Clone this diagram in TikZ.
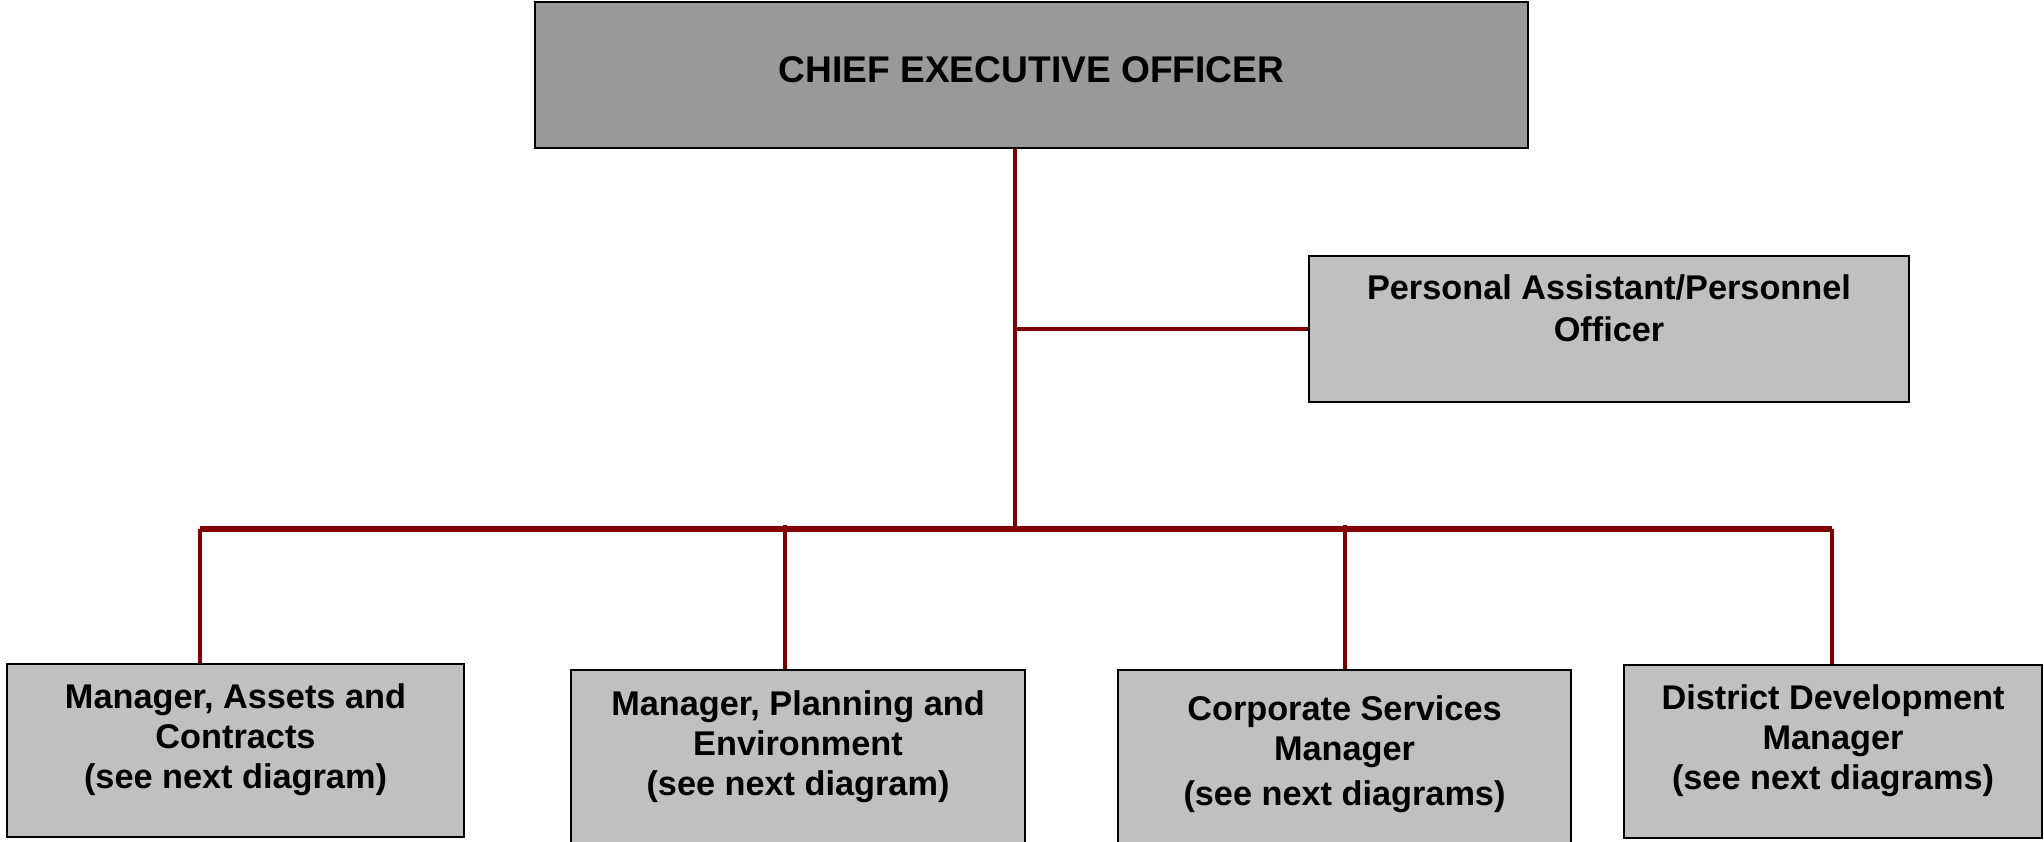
\documentclass[tikz,border=0pt]{standalone}
\usepackage{fontspec}
\setmainfont{Liberation Sans}
\usepackage{tikz}
\usetikzlibrary{positioning}
\definecolor{linkred}{HTML}{800000}
\definecolor{ceogray}{HTML}{999999}
\definecolor{boxgray}{HTML}{C0C0C0}
\tikzset{
  x=0.35pt, y=-0.35pt,
}
\tikzstyle{post}=[draw=black,line width=0.8pt,fill=boxgray,inner sep=0pt]
\tikzstyle{title}=[font=\bfseries\fontsize{12}{14}\selectfont,align=center,inner sep=0pt]
\tikzstyle{link}=[linkred,line width=1.4pt]
\tikzstyle{bus}=[linkred,line width=2pt]

\begin{document}
\begin{tikzpicture}
    \useasboundingbox (0,0) rectangle (2044,842);

    % top level
    \node[post,fill=ceogray,minimum width=347.5pt,minimum height=51.1pt] (ceo) at (1031.5,75) {};
    \node[title,font=\bfseries\fontsize{13}{15}\selectfont,below=19.3pt of ceo.north] (ceo-t) {CHIEF EXECUTIVE OFFICER};

    \node[post,minimum width=210pt,minimum height=51.1pt] (pa) at (1609,329) {};
    \node[title,below=6.6pt of pa.north] (pa-t) {Personal Assistant/Personnel\\[0.7pt] Officer};

    % managers
    \node[post,minimum width=160pt,minimum height=60.5pt] (ac) at (235.5,750.5) {};
    \node[title,below=7pt of ac.north] (ac-t) {Manager, Assets and\\ Contracts\\ (see next diagram)};

    \node[post,minimum width=158.9pt,minimum height=63pt] (pe) at (798,760) {};
    \node[title,below=7.3pt of pe.north] (pe-t) {Manager, Planning and\\ Environment\\ (see next diagram)};

    \node[post,minimum width=158.6pt,minimum height=63pt] (cs) at (1344.5,760) {};
    \node[title,below=9.1pt of cs.north] (cs-t) {Corporate Services\\ Manager\\[2pt] (see next diagrams)};

    \node[post,minimum width=146.3pt,minimum height=60.5pt] (dd) at (1833,751.5) {};
    \node[title,below=7pt of dd.north] (dd-t) {District Development\\ Manager\\ (see next diagrams)};

    % connectors
    \coordinate (hub) at (1015,529);
    \coordinate (b1) at (200,529);
    \coordinate (b2) at (785,529);
    \coordinate (b3) at (1345,529);
    \coordinate (b4) at (1832,529);

    \draw[link] (ceo.south -| hub) -- (hub);
    \draw[link] (hub |- pa.west) -- (pa.west);
    \draw[bus] (b1) -- (b4);
    \draw[link] (b1) -- (b1 |- ac.north);
    \draw[link] ([yshift=1.5pt]b2) -- (b2 |- pe.north);
    \draw[link] ([yshift=1.5pt]b3) -- (b3 |- cs.north);
    \draw[link] (b4) -- (b4 |- dd.north);
\end{tikzpicture}
\end{document}
